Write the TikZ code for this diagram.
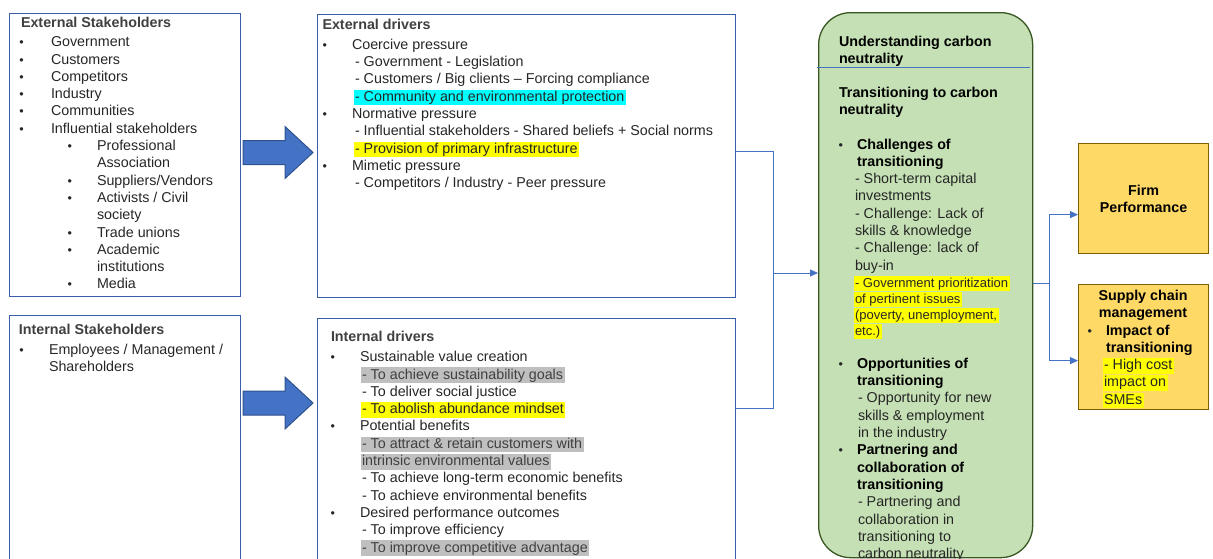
\documentclass[tikz,border=0pt]{standalone}
\usepackage{fontspec}
\setmainfont{Liberation Sans}
\usetikzlibrary{arrows.meta}
\definecolor{bodyc}{HTML}{262626}
\definecolor{titlec}{HTML}{404040}
\definecolor{boxblue}{HTML}{3A5FA8}
\definecolor{arrfill}{HTML}{4472C4}
\definecolor{arrdraw}{HTML}{2F528F}
\definecolor{conblue}{HTML}{4472C4}
\definecolor{greenfill}{HTML}{C5E0B4}
\definecolor{greendraw}{HTML}{385723}
\definecolor{goldfill}{HTML}{FFD966}
\definecolor{golddraw}{HTML}{7F6000}
\definecolor{hlyellow}{HTML}{FFFF00}
\definecolor{hlcyan}{HTML}{00FFFF}
\definecolor{hlgray}{HTML}{BFBFBF}
\newcounter{tlc}
\newcommand\tline[4][]{\stepcounter{tlc}\node[txt,#1] (tl\the\value{tlc}) at (#2,#3) {#4};}
\newcommand\bul[2]{\stepcounter{tlc}\node[bulst] (tl\the\value{tlc}) at (#1,#2) {•};}
\begin{document}
\begin{tikzpicture}[x=1pt,y=-1pt,
 txt/.style={anchor=base west, inner sep=0pt, outer sep=0pt, font=\fontsize{14.3}{17.3}\selectfont, text=bodyc},
 ttl/.style={font=\fontsize{14.3}{17.3}\selectfont\bfseries, text=titlec},
 gtl/.style={font=\fontsize{14.3}{17.3}\selectfont\bfseries, text=black},
 hl/.style={fill=#1, inner xsep=1.5pt, inner ysep=0pt, text height=11.6pt, text depth=4pt},
 gtext/.style={text=black!75},
 sm/.style={font=\fontsize{13}{16}\selectfont},
 bulst/.style={anchor=base west, inner sep=0pt, outer sep=0pt, font=\fontsize{12.5}{14}\selectfont, text=bodyc},
 sbox/.style={draw=boxblue, line width=1.2pt, anchor=north west, inner sep=0pt},
 blockarr/.style={fill=arrfill, draw=arrdraw, line width=1pt, line join=miter},
 conn/.style={draw=conblue, line width=0.9pt},
 arr/.style={conn, -{Triangle[length=8pt,width=7pt]}},
]
\useasboundingbox (0,0) rectangle (1213,558);
\clip (0,0) rectangle (1213,558);

% boxes
\node[sbox, minimum width=231pt, minimum height=283pt] (es) at (9,13) {};
\node[sbox, minimum width=231pt, minimum height=270pt] (is) at (9,315) {};
\node[sbox, minimum width=418pt, minimum height=283pt] (ed) at (317,14) {};
\node[sbox, minimum width=418pt, minimum height=270pt] (id) at (317,318) {};
\node[draw=greendraw, fill=greenfill, line width=1.3pt, rounded corners=32pt, anchor=north west,
      minimum width=214pt, minimum height=545pt, inner sep=0pt] (gb) at (818,12) {};
\node[draw=golddraw, fill=goldfill, line width=1.2pt, anchor=north west, minimum width=130pt,
      minimum height=110pt, inner sep=0pt, align=center, font=\fontsize{14.3}{17.3}\selectfont\bfseries, text=black]
      (fp) at (1078,143) {Firm\\Performance};
\node[draw=golddraw, fill=goldfill, line width=1.2pt, anchor=north west, minimum width=130pt,
      minimum height=125pt, inner sep=0pt] (sc) at (1078,284) {};

% block arrows
\path[blockarr] (243,140.5) -- (285,140.5) -- (285,126.5) -- (313,152.5) -- (285,178.5) -- (285,164.5) -- (243,164.5) -- cycle;
\path[blockarr] (243,391) -- (285,391) -- (285,377) -- (313,403) -- (285,429) -- (285,415) -- (243,415) -- cycle;

% connectors
\coordinate (j1) at (773,273);
\draw[conn] ([yshift=4.5pt]ed.east) -| (j1);
\draw[conn] ([yshift=-90pt]id.north east) -| (j1);
\draw[arr] (j1) -- (j1 -| gb.west);
\coordinate (j2) at (1049,283);
\draw[conn] (gb.east |- j2) -- (j2);
\draw[arr] (j2) |- ([yshift=-16pt]fp.west);
\draw[arr] (j2) |- ([yshift=-13.5pt]sc.west);
\draw[conn, line width=0.8pt] (817,67) -- (1030,67);

% External Stakeholders
\tline[ttl]{21}{27}{External Stakeholders}
\bul{19.5}{46.7}\tline{51}{46.7}{Government}
\bul{19.5}{64.0}\tline{51}{64.0}{Customers}
\bul{19.5}{81.3}\tline{51}{81.3}{Competitors}
\bul{19.5}{98.6}\tline{51}{98.6}{Industry}
\bul{19.5}{115.9}\tline{51}{115.9}{Communities}
\bul{19.5}{133.2}\tline{51}{133.2}{Influential stakeholders}
\bul{67.5}{150.5}\tline{97}{150.5}{Professional}
\tline{97}{167.8}{Association}
\bul{67.5}{185.1}\tline{97}{185.1}{Suppliers/Vendors}
\bul{67.5}{202.4}\tline{97}{202.4}{Activists / Civil}
\tline{97}{219.7}{society}
\bul{67.5}{237.0}\tline{97}{237.0}{Trade unions}
\bul{67.5}{254.3}\tline{97}{254.3}{Academic}
\tline{97}{271.6}{institutions}
\bul{67.5}{288.9}\tline{97}{288.9}{Media}

% Internal Stakeholders
\tline[ttl]{19}{334.5}{Internal Stakeholders}
\bul{19.5}{354}\tline{49}{354}{Employees / Management /}
\tline{49}{371.3}{Shareholders}

% External drivers
\tline[ttl]{322.5}{29.3}{External drivers}
\bul{322.5}{49.3}\tline{352}{49.3}{Coercive pressure}
\tline{355}{66.6}{- Government - Legislation}
\tline{355}{83.9}{- Customers / Big clients – Forcing compliance}
\tline[hl=hlcyan]{353.5}{101.2}{- Community and environmental protection}
\bul{322.5}{118.5}\tline{352}{118.5}{Normative pressure}
\tline{355}{135.8}{- Influential stakeholders - Shared beliefs + Social norms}
\tline[hl=hlyellow]{353.5}{153.1}{- Provision of primary infrastructure}
\bul{322.5}{170.4}\tline{352}{170.4}{Mimetic pressure}
\tline{355}{187.7}{- Competitors / Industry - Peer pressure}

% Internal drivers
\tline[ttl]{331}{341}{Internal drivers}
\bul{330.5}{361.7}\tline{360}{361.7}{Sustainable value creation}
\tline[hl=hlgray,gtext]{360.5}{379}{- To achieve sustainability goals}
\tline{362}{396.3}{- To deliver social justice}
\tline[hl=hlyellow]{360.5}{413.6}{- To abolish abundance mindset}
\bul{330.5}{430.9}\tline{360}{430.9}{Potential benefits}
\tline[hl=hlgray,gtext]{360.5}{448.2}{- To attract \& retain customers with}
\tline[hl=hlgray,gtext]{360.5}{465.5}{intrinsic environmental values}
\tline{362}{482.8}{- To achieve long-term economic benefits}
\tline{362}{500.1}{- To achieve environmental benefits}
\bul{330.5}{517.4}\tline{360}{517.4}{Desired performance outcomes}
\tline{362}{534.7}{- To improve efficiency}
\tline[hl=hlgray,gtext]{360.5}{552}{- To improve competitive advantage}

% Green box
\tline[gtl]{839}{46}{Understanding carbon}
\tline[gtl]{839}{63.3}{neutrality}
\tline[gtl]{839}{97.3}{Transitioning to carbon}
\tline[gtl]{839}{114.6}{neutrality}
\bul{838.5}{149}\tline[gtl]{857}{149}{Challenges of}
\tline[gtl]{857}{166.3}{transitioning}
\tline{855}{183.6}{- Short-term capital}
\tline{855}{200.9}{investments}
\tline{855}{218.2}{- Challenge: Lack of}
\tline{855}{235.5}{skills \& knowledge}
\tline{855}{252.8}{- Challenge: lack of}
\tline{855}{270.1}{buy-in}
\tline[sm,hl=hlyellow]{853.5}{287.4}{- Government prioritization}
\tline[sm,hl=hlyellow]{853.5}{303.4}{of pertinent issues}
\tline[sm,hl=hlyellow]{853.5}{319.4}{(poverty, unemployment,}
\tline[sm,hl=hlyellow]{853.5}{335.4}{etc.)}
\bul{838.5}{368.3}\tline[gtl]{857}{368.3}{Opportunities of}
\tline[gtl]{857}{385.6}{transitioning}
\tline{858}{402.9}{- Opportunity for new}
\tline{858}{420.2}{skills \& employment}
\tline{858}{437.5}{in the industry}
\bul{838.5}{454.8}\tline[gtl]{857}{454.8}{Partnering and}
\tline[gtl]{857}{472.1}{collaboration of}
\tline[gtl]{857}{489.4}{transitioning}
\tline{858}{506.7}{- Partnering and}
\tline{858}{524}{collaboration in}
\tline{858}{541.3}{transitioning to}
\tline{858}{558.6}{carbon neutrality}

% Supply chain box
\tline[gtl,anchor=base]{1143}{300}{Supply chain}
\tline[gtl,anchor=base]{1143}{317.3}{management}
\bul{1087.5}{335}\tline[gtl]{1106}{335}{Impact of}
\tline[gtl]{1106}{352.3}{transitioning}
\tline[hl=hlyellow]{1102.5}{369.6}{- High cost}
\tline[hl=hlyellow]{1102.5}{386.9}{impact on}
\tline[hl=hlyellow]{1102.5}{404.2}{SMEs}
\end{tikzpicture}
\end{document}
